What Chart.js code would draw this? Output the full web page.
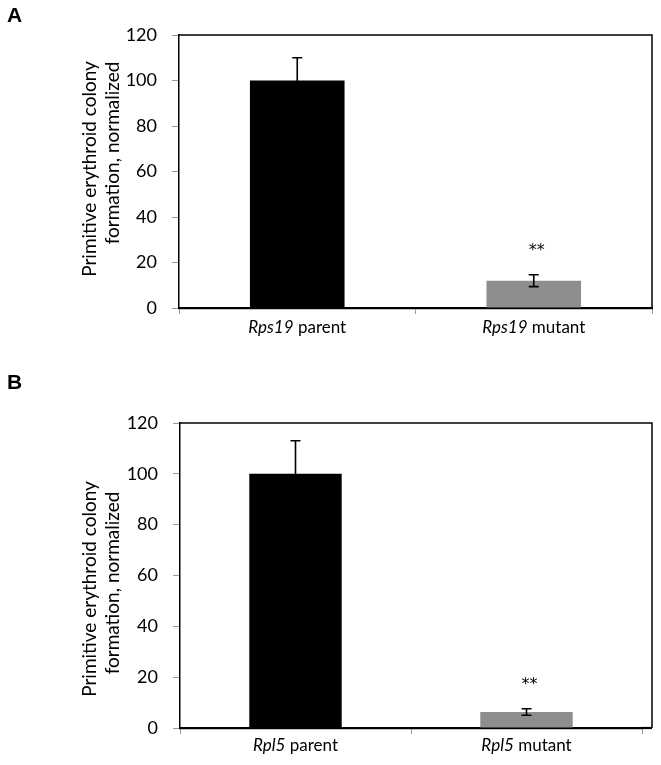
<!DOCTYPE html>
<html>
<head>
<meta charset="utf-8">
<script src="https://cdn.jsdelivr.net/npm/chart.js@4.4.1/dist/chart.umd.min.js"></script>
<style>
  body { margin: 0; background: #fff; width: 661px; height: 765px; position: relative; overflow: hidden; }
  canvas { position: absolute; left: 0; }
  .panel { position: absolute; left: 7px; font: bold 21px "Liberation Sans", Arial, sans-serif; color: #000; }
</style>
</head>
<body>
<canvas id="chartA" width="661" height="365" style="top:0"></canvas>
<canvas id="chartB" width="661" height="400" style="top:365px"></canvas>
<div class="panel" style="top:3px">A</div>
<div class="panel" style="top:370px">B</div>
<script>
const yTicks = [0, 20, 40, 60, 80, 100, 120];
const barColors = ['#000000', '#8e8e8e'];
const yTitle = ['Primitive erythroid colony', 'formation, normalized'];

const categoriesA = ['Rps19 parent', 'Rps19 mutant'];
const valuesA = [100, 12];
const errorsA = [10, 2.6];
const starsA = ['', '**'];

const categoriesB = ['Rpl5 parent', 'Rpl5 mutant'];
const valuesB = [100, 6.3];
const errorsB = [13, 1.3];
const starsB = ['', '**'];

const FONT = 'Lato, "Open Sans", sans-serif';

function extras(cfg) {
    return {
        id: 'extras',
        afterDatasetsDraw(chart) {
            const ctx = chart.ctx;
            const y = chart.scales.y;
            const meta = chart.getDatasetMeta(0);
            ctx.save();
            ctx.strokeStyle = '#000';
            ctx.fillStyle = '#000';
            ctx.lineWidth = 1.6;
            meta.data.forEach((bar, i) => {
                const v = cfg.values[i], e = cfg.errors[i];
                const top = y.getPixelForValue(v + e);
                const bot = y.getPixelForValue(v - e);
                ctx.beginPath();
                ctx.moveTo(bar.x, top); ctx.lineTo(bar.x, bot);
                ctx.moveTo(bar.x - 5, top); ctx.lineTo(bar.x + 5, top);
                ctx.moveTo(bar.x - 5, bot); ctx.lineTo(bar.x + 5, bot);
                ctx.stroke();
                if (cfg.stars[i]) {
                    ctx.font = '16px "DejaVu Sans", sans-serif';
                    ctx.textAlign = 'center';
                    ctx.textBaseline = 'alphabetic';
                    ctx.fillText(cfg.stars[i], bar.x + 3, top - 20);
                }
            });
            ctx.restore();
        },
        afterDraw(chart) {
            const ctx = chart.ctx;
            const a = chart.chartArea;
            const xs = chart.scales.x;
            ctx.save();
            // frame top and right
            ctx.strokeStyle = '#000';
            ctx.lineWidth = 1.5;
            ctx.beginPath();
            ctx.moveTo(a.left, a.top);
            ctx.lineTo(a.right + cfg.extraRight, a.top);
            ctx.lineTo(a.right + cfg.extraRight, a.bottom);
            ctx.stroke();
            if (cfg.extraRight > 0) {
                ctx.lineWidth = 2.2;
                ctx.beginPath();
                ctx.moveTo(a.right, a.bottom);
                ctx.lineTo(a.right + cfg.extraRight, a.bottom);
                ctx.stroke();
            }
            // category labels, gene name in italics
            ctx.fillStyle = '#000';
            ctx.textBaseline = 'alphabetic';
            ctx.textAlign = 'left';
            cfg.categories.forEach((lab, i) => {
                const gene = lab.split(' ')[0];
                const rest = lab.slice(gene.length);
                ctx.font = 'italic 17px ' + FONT;
                const w1 = ctx.measureText(gene).width;
                ctx.font = '17px ' + FONT;
                const w2 = ctx.measureText(rest).width;
                const x0 = xs.getPixelForValue(i) - (w1 + w2) / 2;
                ctx.font = 'italic 17px ' + FONT;
                ctx.fillText(gene, x0, a.bottom + cfg.labelOffset);
                ctx.font = '17px ' + FONT;
                ctx.fillText(rest, x0 + w1, a.bottom + cfg.labelOffset);
            });
            // y title, two rotated lines
            ctx.font = '19px ' + FONT;
            ctx.textAlign = 'center';
            ctx.textBaseline = 'middle';
            yTitle.forEach((line, i) => {
                ctx.save();
                ctx.translate(cfg.titleX[i], cfg.titleY[i]);
                ctx.rotate(-Math.PI / 2);
                ctx.fillText(line, 0, 0);
                ctx.restore();
            });
            ctx.restore();
        }
    };
}

function makeChart(id, cfg) {
    const ctx = document.getElementById(id).getContext('2d');
    return new Chart(ctx, {
        type: 'bar',
        data: {
            labels: cfg.categories,
            datasets: [{
                data: cfg.values,
                backgroundColor: barColors,
                borderWidth: 0,
                barPercentage: 0.4,
                categoryPercentage: 1
            }]
        },
        options: {
            responsive: false,
            animation: false,
            devicePixelRatio: 1,
            layout: { padding: { top: cfg.padTop, right: cfg.padRight, left: 0, bottom: 0 } },
            plugins: { legend: { display: false }, tooltip: { enabled: false } },
            scales: {
                x: {
                    offset: true,
                    grid: { drawOnChartArea: false, drawTicks: true, tickLength: 6, color: '#999', lineWidth: 1 },
                    border: { color: '#000', width: 2.2 },
                    ticks: { display: false },
                    afterFit(scale) { scale.height = cfg.xHeight; }
                },
                y: {
                    min: 0,
                    max: 120,
                    afterBuildTicks(scale) { scale.ticks = yTicks.map(v => ({ value: v })); },
                    grid: { drawOnChartArea: false, drawTicks: true, tickLength: 7, color: '#999', lineWidth: 1 },
                    border: { color: '#000', width: 1.5 },
                    ticks: { color: '#000', padding: 15, font: { family: FONT, size: 18 } },
                    afterFit(scale) { scale.width = cfg.yWidth; }
                }
            }
        },
        plugins: [extras(cfg)]
    });
}

makeChart('chartA', {
    categories: categoriesA, values: valuesA, errors: errorsA, stars: starsA,
    padTop: 35, padRight: 9, xHeight: 57, yWidth: 179, extraRight: 0,
    labelOffset: 25, titleX: [90, 113], titleY: [169, 153]
});

makeChart('chartB', {
    categories: categoriesB, values: valuesB, errors: errorsB, stars: starsB,
    padTop: 58, padRight: 19, xHeight: 37, yWidth: 180, extraRight: 10,
    labelOffset: 23, titleX: [90, 113], titleY: [224, 218]
});
</script>
</body>
</html>
